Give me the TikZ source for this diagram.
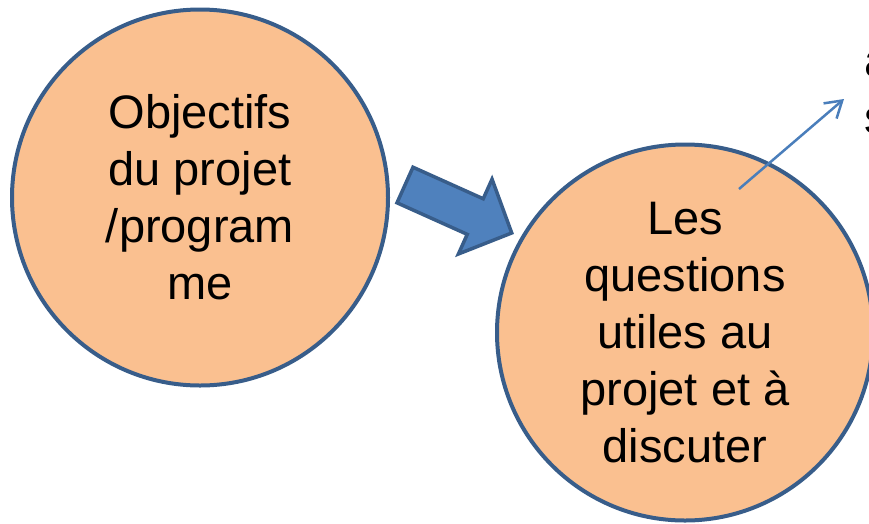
\documentclass[tikz,border=0pt]{standalone}
\usepackage{fontspec}
\setmainfont{Liberation Sans}
\usetikzlibrary{arrows.meta}
\definecolor{peach}{HTML}{FAC090}
\definecolor{rimblue}{HTML}{385D8A}
\definecolor{arrowblue}{HTML}{4F81BD}
\definecolor{lineblue}{HTML}{4A7EBB}

\begin{document}
\begin{tikzpicture}[x=1pt,y=-1pt]
\tikzstyle{every node}=[font=\fontsize{47}{57}\selectfont, align=center]
\tikzstyle{topic}=[circle, draw=rimblue, line width=4pt, fill=peach, minimum size=376pt, inner sep=0pt]
\tikzstyle{bigarrow}=[draw=rimblue, line width=3.5pt, fill=arrowblue, line join=miter]
\tikzstyle{pointer}=[draw=lineblue, line width=2.5pt, -{Straight Barb[length=16pt,width=20pt]}]

\useasboundingbox (0,0) rectangle (869,523);
\clip (0,0) rectangle (869,523);

\node[topic] (objectifs) at (200,197.5) {Objectifs\\du projet\\/program\\me};
\node[topic] (questions) at (685,332.5) {Les\\questions\\utiles au\\projet et à\\discuter};

\begin{scope}[shift={(405,185)}, rotate=-24.2]
	\draw[bigarrow] (0,19.5) -- (77,19.5) -- (77,41) -- (117,0) -- (77,-41) -- (77,-19.5) -- (0,-19.5) -- cycle;
\end{scope}

\node[anchor=base west, inner sep=0pt] (notea) at (864,76) {a};
\node[anchor=base west, inner sep=0pt] (notes) at (864,133) {s};

\coordinate (qfrom) at (739,189);
\coordinate (qto) at (844,99);
\draw[pointer] (qfrom) -- (qto);

\end{tikzpicture}
\end{document}
